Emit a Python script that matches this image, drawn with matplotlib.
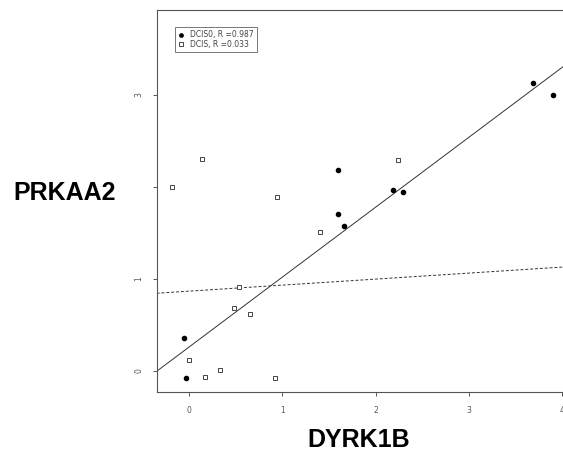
import numpy as np
import matplotlib
matplotlib.use("Agg")
import matplotlib.pyplot as plt

# DCIS0 (filled dots)
dcis0_x = [-0.057, -0.035, 1.59, 1.60, 1.66, 2.18, 2.29, 3.685, 3.90]
dcis0_y = [0.362, -0.073, 2.185, 1.707, 1.58, 1.97, 1.94, 3.13, 3.00]
# DCIS (open squares)
dcis_x = [0.14, -0.186, 0.943, 1.405, 2.233, 0.534, 0.484, 0.649, 0.0, 0.33, 0.165, 0.917]
dcis_y = [2.30, 2.00, 1.888, 1.507, 2.297, 0.91, 0.688, 0.623, 0.123, 0.01, -0.07, -0.073]

# fitted lines (slope, intercept)
fit0 = (0.760, 0.261)
fit1 = (0.0654, 0.8675)

xticks = [0, 1, 2, 3, 4]
yticks = [0, 1, 2, 3]
ytick_labels = ["0", "1", "", "3"]

fig = plt.figure(figsize=(5.63, 4.61), dpi=100)
ax = fig.add_axes([0.2789, 0.1497, 0.7235, 0.8283])

xs = np.array([-0.4, 4.1])
ax.plot(xs, fit0[0] * xs + fit0[1], color="#333333", lw=0.7)
ax.plot(xs, fit1[0] * xs + fit1[1], color="#333333", lw=0.7, ls=(0, (3, 2)))

ax.plot(dcis0_x, dcis0_y, "o", ms=3, color="black", label="DCIS0, R =0.987")
ax.plot(dcis_x, dcis_y, "s", ms=3, mfc="white", mec="#444444", mew=0.7,
        label="DCIS, R =0.033")

ax.set_xlim(-0.344, 4.02)
ax.set_ylim(-0.228, 3.92)
ax.set_xticks(xticks)
ax.set_xticklabels([str(t) for t in xticks])
ax.set_yticks(yticks)
ax.set_yticklabels(ytick_labels, rotation=90, va="center")
ax.tick_params(labelsize=5.5, labelcolor="#555555", color="#555555", length=3, width=0.7, pad=7)
for s in ax.spines.values():
    s.set_color("#555555")
    s.set_linewidth(0.8)
ax.spines["right"].set_visible(False)

leg = ax.legend(loc="upper left", bbox_to_anchor=(0.035, 0.965), fontsize=5.5,
                frameon=True, fancybox=False, edgecolor="#555555",
                handlelength=0.8, handletextpad=0.8, borderpad=0.4,
                labelspacing=0.1, markerscale=0.8)
leg.get_frame().set_linewidth(0.7)
for t in leg.get_texts():
    t.set_color("#444444")

fig.text(65 / 563, 1 - 193 / 461, "PRKAA2", fontsize=18, fontweight="bold",
         family="Liberation Sans", ha="center", va="center")
fig.text(359 / 563, 1 - 440 / 461, "DYRK1B", fontsize=18, fontweight="bold",
         family="Liberation Sans", ha="center", va="center")

fig.savefig("out.png", dpi=100)
